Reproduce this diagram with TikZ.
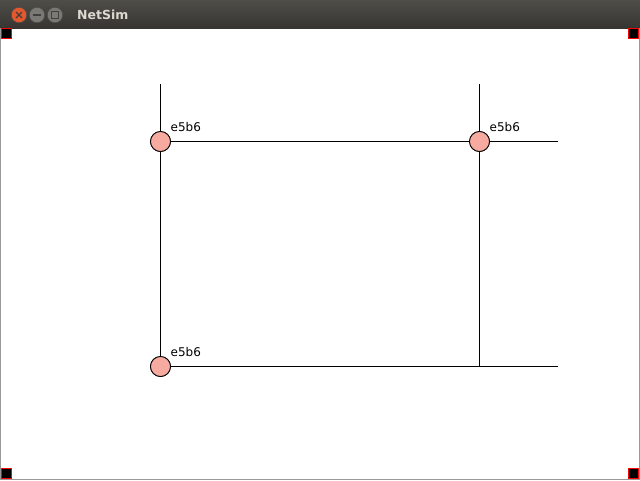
\documentclass[tikz,border=0pt]{standalone}
\usepackage{fontspec}
\setmainfont{DejaVu Sans}
\begin{document}
\begin{tikzpicture}[x=1pt,y=-1pt,
  wire/.style={line width=1pt,black},
  host/.style={circle,draw=black,line width=0.8pt,fill=nodepink,minimum size=20pt,inner sep=0pt},
  lbl/.style={anchor=base west,inner sep=0pt,font=\fontsize{12}{12}\selectfont},
  corner/.style={draw=red,line width=1.3pt,fill=black,minimum size=10pt,inner sep=0pt,rectangle},
  wbtn/.style={circle,minimum size=15.5pt,inner sep=0pt,draw=black!70,line width=0.6pt}]
\definecolor{nodepink}{RGB}{246,170,160}
\definecolor{barA}{RGB}{78,77,72}
\definecolor{barB}{RGB}{54,53,49}
\definecolor{closeC}{RGB}{228,88,44}
\definecolor{grayC}{RGB}{122,121,116}
\definecolor{titleC}{RGB}{220,217,210}
\useasboundingbox (0,0) rectangle (640,480);
\fill[white] (0,0) rectangle (640,480);
% title bar
\shade[top color=barA,bottom color=barB] (0,0) rectangle (640,28);
\node[wbtn,fill=closeC] (close) at (19,15) {};
\node[wbtn,fill=grayC] (mini) at (37,15) {};
\node[wbtn,fill=grayC] (maxi) at (55,15) {};
\draw[line width=1.2pt,black!75] (16,12) -- (22,18) (22,12) -- (16,18);
\draw[line width=1.2pt,black!75] (33,15) -- (41,15);
\draw[line width=1pt,black!75] (51.5,11.5) rectangle (58.5,18.5);
\node[anchor=base west,inner sep=0pt,text=titleC,font=\bfseries\fontsize{12.5}{12.5}\selectfont] (title) at (77,19.5) {NetSim};
% window border
\draw[black!40,line width=1pt] (0.5,28) -- (0.5,479.5) -- (639.5,479.5) -- (639.5,28);
% corner markers
\node[corner] (c1) at (6.5,33.5) {};
\node[corner] (c2) at (633.5,33.5) {};
\node[corner] (c3) at (6.5,473.5) {};
\node[corner] (c4) at (633.5,473.5) {};
% network
\coordinate (t1) at (160.5,84);
\coordinate (t2) at (479.5,84);
\coordinate (r1) at (558,141.5);
\coordinate (r2) at (558,366.5);
\coordinate (j) at (479.5,366.5);
\node[host] (n1) at (160.5,141.5) {};
\node[host] (n2) at (479.5,141.5) {};
\node[host] (n3) at (160.5,366.5) {};
\draw[wire] (t1) -- (n1) -- (n3);
\draw[wire] (t2) -- (n2) -- (j);
\draw[wire] (n1) -- (n2) -- (r1);
\draw[wire] (n3) -- (j) -- (r2);
\node[host] at (n1) {};
\node[host] at (n2) {};
\node[host] at (n3) {};
\node[lbl] (l1) at (170.5,131) {e5b6};
\node[lbl] (l2) at (489.5,131) {e5b6};
\node[lbl] (l3) at (170.5,356) {e5b6};
\end{tikzpicture}
\end{document}
